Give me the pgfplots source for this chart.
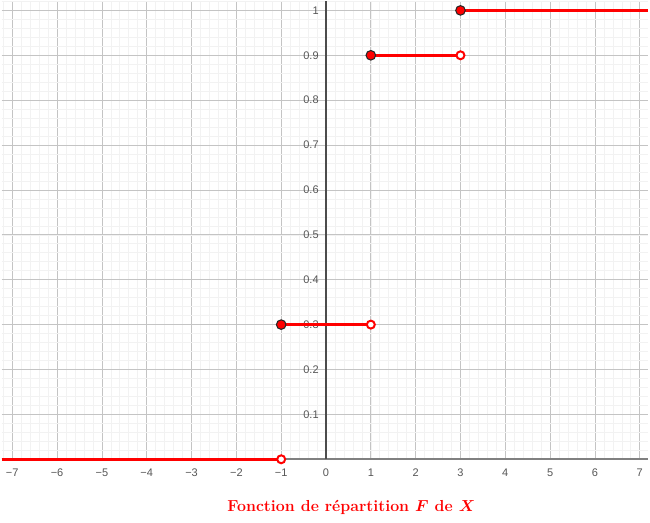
\documentclass[border=0pt]{standalone}
\usepackage{fontspec}
\usepackage{amsmath,bm}
\usepackage{pgfplots}
\pgfplotsset{compat=1.18}
\newfontfamily\ggfont{Liberation Sans}
\definecolor{majgrid}{RGB}{196,196,196}
\definecolor{mingrid}{RGB}{242,242,242}
\definecolor{lblgray}{RGB}{85,85,85}
\begin{document}
\begin{tikzpicture}[x=1pt,y=1pt]
\begin{axis}[
  at={(0,0)}, anchor=south west,
  scale only axis,
  width=487.5pt, height=345.75pt,
  xmin=-7.238, xmax=7.193,
  ymin=0, ymax=1.022,
  axis lines=middle,
  axis line style={-},
  x axis line style={draw=gray, line width=1.3pt},
  y axis line style={draw=black!70, line width=0.8pt},
  hide obscured x ticks=false,
  xtick={-7,-6,-5,-4,-3,-2,-1,0,1,2,3,4,5,6,7},
  xticklabels={−7,−6,−5,−4,−3,−2,−1,0,1,2,3,4,5,6,7},
  ytick={0.1,0.2,0.3,0.4,0.5,0.6,0.7,0.8,0.9,1},
  yticklabels={0.1,0.2,0.3,0.4,0.5,0.6,0.7,0.8,0.9,1},
  minor xtick={-7.2,-7,...,7.2},
  minor ytick={0,0.02,...,1.021},
  major tick length=0pt, minor tick length=0pt,
  grid=both,
  major grid style={draw=majgrid, line width=0.6pt},
  minor grid style={draw=mingrid, line width=0.5pt},
  ticklabel style={font=\ggfont\fontsize{8.3}{10}\selectfont, text=lblgray},
  xticklabel style={anchor=north, yshift=-4pt},
  yticklabel style={anchor=east, xshift=-2pt},
  clip=false,
  axis on top=false,
]
\addplot[red, line width=2.4pt] coordinates {(-7.238,0) (-1,0)};
\addplot[red, line width=2.4pt] coordinates {(-1,0.3) (1,0.3)};
\addplot[red, line width=2.4pt] coordinates {(1,0.9) (3,0.9)};
\addplot[red, line width=2.4pt] coordinates {(3,1) (7.193,1)};
% open points
\addplot[only marks, mark=*, mark size=3pt, mark options={fill=white, draw=red, line width=1.5pt}]
  coordinates {(-1,0) (1,0.3) (3,0.9)};
% closed points
\addplot[only marks, mark=*, mark size=3.6pt, mark options={fill=red, draw=black!85, line width=0.8pt}]
  coordinates {(-1,0.3) (1,0.9) (3,1)};
\end{axis}
\node[text=red, font=\bfseries\large] at (263.5,-36) {Fonction de répartition $\bm{F}$ de $\bm{X}$};
\path[use as bounding box] (0,-48) rectangle (487.5,345.75);
\end{tikzpicture}
\end{document}
